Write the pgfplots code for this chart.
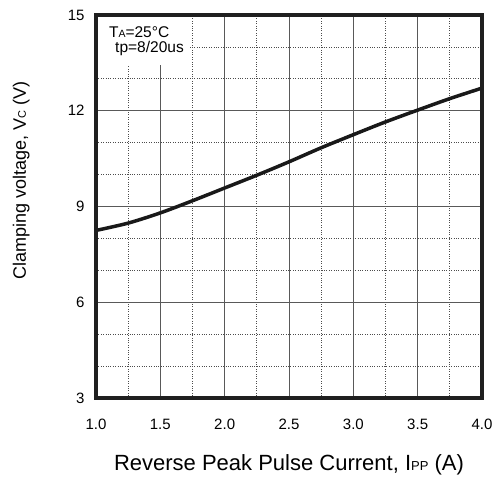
\documentclass[border=0pt]{standalone}
\usepackage{pgfplots}
\pgfplotsset{compat=1.18}
\usepackage{fontspec}
\setmainfont{Liberation Sans}
\begin{document}
\begin{tikzpicture}
\begin{axis}[
    name=ax,
    scale only axis,
    width=386pt, height=383pt,
    xmin=1, xmax=4, ymin=3, ymax=15,
    xtick={1,1.5,...,4},
    ytick={3,6,9,12,15},
    minor xtick={1.25,1.75,...,3.75},
    minor ytick={4,5,7,8,10,11,13,14},
    xticklabels={1.0,1.5,2.0,2.5,3.0,3.5,4.0},
    /pgf/number format/assume math mode=true,
    tick label style={font=\fontsize{15}{16}\selectfont},
    tick style={draw=none},
    xtick pos=bottom, ytick pos=left,
    xticklabel style={anchor=base, yshift=-31pt},
    yticklabel style={xshift=-8pt},
    axis line style={draw=none},
    major grid style={draw=black!65, line width=0.9pt},
    minor grid style={draw=black!70, dotted, line width=0.8pt},
    grid=both,
    clip=false,
    xlabel={Reverse Peak Pulse Current, I{\fontsize{13}{14}\selectfont PP} (A)},
    ylabel={Clamping voltage, V{\fontsize{11}{12}\selectfont C} (V)},
    xlabel style={font=\fontsize{22}{24}\selectfont,
        at={([yshift=-72pt]rel axis cs:0.5,0)}, anchor=base},
    ylabel style={font=\fontsize{18}{20}\selectfont,
        at={([xshift=-70pt,yshift=26pt]rel axis cs:0,0.5)}, anchor=base},
]
\fill[white] (axis cs:1.0,15) rectangle (axis cs:1.73,13.43);
\addplot[line width=3.5pt, black!90, smooth] coordinates {
    (1.0, 8.25) (1.25, 8.48) (1.5, 8.8) (1.75, 9.18) (2.0, 9.58)
    (2.25, 9.98) (2.5, 10.4) (2.75, 10.84) (3.0, 11.25)
    (3.25, 11.65) (3.5, 12.02) (3.75, 12.38) (4.0, 12.71)
};
\node[anchor=base west, inner sep=0pt, font=\fontsize{15.5}{16}\selectfont]
  at (axis cs:1.10,14.31) {T{\fontsize{10.5}{11}\selectfont A}=25°C};
\node[anchor=base west, inner sep=0pt, font=\fontsize{15.5}{16}\selectfont]
  at (axis cs:1.148,13.81) {tp=8/20us};
\draw[line width=3.5pt, black!88, line join=miter]
  (rel axis cs:0,0) rectangle (rel axis cs:1,1);
\end{axis}
\pgfresetboundingbox
\path ([shift={(-96pt,-78pt)}]ax.south west) rectangle ([shift={(15pt,15pt)}]ax.north east);
\end{tikzpicture}
\end{document}
